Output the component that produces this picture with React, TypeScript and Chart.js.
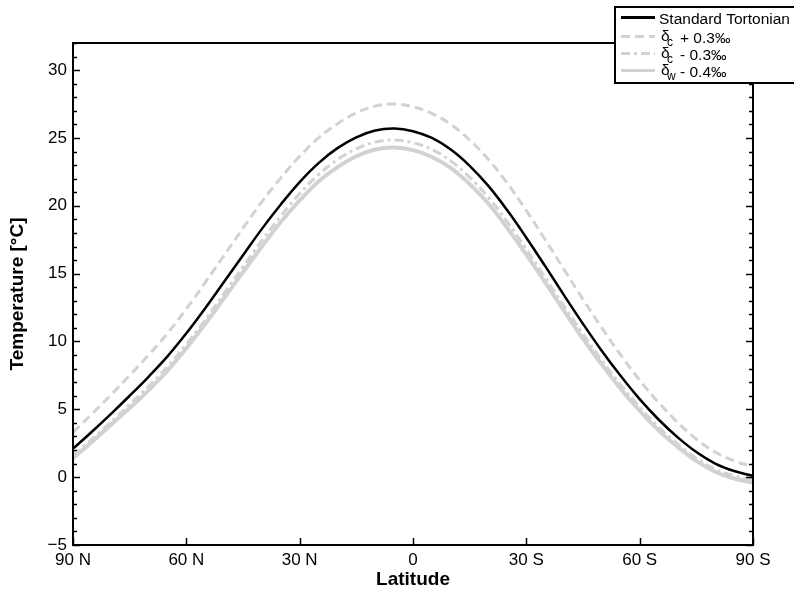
import React, { useEffect, useRef } from 'react';
import { Chart, registerables } from 'chart.js';

Chart.register(...registerables);

// Latitude axis: negative = North, positive = South
const latitudes = [-90, -85, -80, -75, -70, -65, -60, -55, -50, -45, -40, -35, -30, -25, -20, -15, -10, -5, 0, 5, 10, 15, 20, 25, 30, 35, 40, 45, 50, 55, 60, 65, 70, 75, 80, 85, 90];

const xTickValues = [-90, -60, -30, 0, 30, 60, 90];
const xTickLabels = ['90 N', '60 N', '30 N', '0', '30 S', '60 S', '90 S'];
const yTickValues = [-5, 0, 5, 10, 15, 20, 25, 30];

const standardTortonian = [2.1, 3.35, 4.65, 6.0, 7.4, 8.9, 10.6, 12.45, 14.4, 16.35, 18.3, 20.1, 21.75, 23.15, 24.25, 25.05, 25.55, 25.7, 25.5, 25.0, 24.15, 22.95, 21.45, 19.65, 17.65, 15.55, 13.4, 11.3, 9.3, 7.45, 5.75, 4.25, 2.95, 1.85, 1.0, 0.45, 0.1];
const deltaCPlus = [3.3, 4.65, 6.05, 7.5, 9.0, 10.6, 12.4, 14.35, 16.35, 18.35, 20.3, 22.05, 23.65, 25.0, 26.05, 26.85, 27.35, 27.5, 27.3, 26.8, 26.0, 24.85, 23.4, 21.65, 19.65, 17.5, 15.3, 13.1, 11.0, 9.0, 7.15, 5.5, 4.05, 2.8, 1.85, 1.2, 0.8];
const deltaCMinus = [1.6, 2.8, 4.05, 5.35, 6.7, 8.15, 9.8, 11.6, 13.55, 15.5, 17.45, 19.25, 20.9, 22.3, 23.4, 24.2, 24.7, 24.85, 24.65, 24.15, 23.3, 22.1, 20.6, 18.8, 16.8, 14.7, 12.6, 10.55, 8.6, 6.8, 5.15, 3.7, 2.45, 1.4, 0.6, 0.1, -0.2];
const deltaWMinus = [1.4, 2.6, 3.85, 5.1, 6.4, 7.85, 9.5, 11.3, 13.2, 15.1, 17.0, 18.8, 20.4, 21.8, 22.85, 23.65, 24.15, 24.3, 24.1, 23.6, 22.8, 21.6, 20.15, 18.35, 16.4, 14.35, 12.25, 10.2, 8.3, 6.5, 4.9, 3.45, 2.25, 1.2, 0.4, -0.1, -0.4];

const seriesLabels = ['Standard Tortonian', 'δc + 0.3‰', 'δc - 0.3‰', 'δw - 0.4‰'];
const legendParts = [
  { pre: 'Standard Tortonian', sub: '', post: '' },
  { pre: 'δ', sub: 'c', post: '+ 0.3‰' },
  { pre: 'δ', sub: 'c', post: '- 0.3‰' },
  { pre: 'δ', sub: 'w', post: '- 0.4‰' },
];

const FONT = '"Liberation Sans", Arial, Helvetica, sans-serif';
const GRAY = '#d2d2d2';

const toPoints = (vals: number[]) => latitudes.map((lat, i) => ({ x: lat, y: vals[i] }));

const framePlugin = {
  id: 'frameTicksLegend',
  afterDraw(chart: any) {
    const { ctx, chartArea, scales } = chart;
    const { left, right, top, bottom } = chartArea;
    const xs = scales.x;
    const ys = scales.y;
    ctx.save();
    ctx.strokeStyle = '#000';
    ctx.lineWidth = 1.5;
    ctx.beginPath();
    for (let v = -5; v <= 32; v++) {
      const py = Math.round(ys.getPixelForValue(v)) + 0.5;
      const len = v % 5 === 0 ? 7 : 4;
      ctx.moveTo(left, py);
      ctx.lineTo(left + len, py);
      ctx.moveTo(right, py);
      ctx.lineTo(right - len, py);
    }
    xTickValues.forEach((v) => {
      const px = Math.round(xs.getPixelForValue(v)) + 0.5;
      ctx.moveTo(px, bottom);
      ctx.lineTo(px, bottom - 7);
    });
    ctx.stroke();
    ctx.lineWidth = 2;
    ctx.strokeRect(left, top, right - left, bottom - top);

    // legend
    const bx = 615, by = 7, bw = 190, bh = 76;
    ctx.fillStyle = '#fff';
    ctx.fillRect(bx, by, bw, bh);
    ctx.lineWidth = 2;
    ctx.strokeStyle = '#000';
    ctx.strokeRect(bx, by, bw, bh);
    const lineYs = [17.5, 36.5, 53.5, 70.5];
    chart.data.datasets.forEach((ds: any, i: number) => {
      const ly = lineYs[i];
      ctx.save();
      ctx.strokeStyle = ds.borderColor;
      ctx.lineWidth = 3;
      ctx.setLineDash(ds.borderDash || []);
      ctx.beginPath();
      ctx.moveTo(621, ly);
      ctx.lineTo(655, ly);
      ctx.stroke();
      ctx.restore();
      const p = legendParts[i];
      const base = ly + 6;
      ctx.fillStyle = '#000';
      ctx.textBaseline = 'alphabetic';
      ctx.textAlign = 'left';
      ctx.font = `15.5px ${FONT}`;
      if (!p.sub) {
        ctx.fillText(p.pre, 659, base);
      } else {
        ctx.fillText(p.pre, 661, base - 2);
        ctx.font = `12px ${FONT}`;
        ctx.fillText(p.sub, 667, base + 3);
        ctx.font = `15.5px ${FONT}`;
        ctx.fillText(p.post, 680, base);
      }
    });
    ctx.restore();
  },
};

export default function App() {
  const ref = useRef<HTMLCanvasElement | null>(null);
  useEffect(() => {
    document.body.style.margin = '0';
    document.body.style.overflow = 'hidden';
    const canvas = ref.current;
    if (!canvas) return;
    const chart = new Chart(canvas, {
      type: 'line',
      data: {
        datasets: [
          {
            label: seriesLabels[0],
            data: toPoints(standardTortonian),
            borderColor: '#000',
            borderWidth: 2.5,
            pointRadius: 0,
            tension: 0.4,
            order: 0,
          },
          {
            label: seriesLabels[1],
            data: toPoints(deltaCPlus),
            borderColor: GRAY,
            borderWidth: 3,
            borderDash: [9, 5],
            pointRadius: 0,
            tension: 0.4,
            order: 1,
          },
          {
            label: seriesLabels[2],
            data: toPoints(deltaCMinus),
            borderColor: GRAY,
            borderWidth: 3,
            borderDash: [9, 4, 3, 4],
            pointRadius: 0,
            tension: 0.4,
            order: 2,
          },
          {
            label: seriesLabels[3],
            data: toPoints(deltaWMinus),
            borderColor: GRAY,
            borderWidth: 4,
            pointRadius: 0,
            tension: 0.4,
            order: 3,
          },
        ],
      },
      options: {
        responsive: false,
        animation: false,
        layout: { padding: { top: 43, right: 41, left: 0, bottom: 0 } },
        plugins: { legend: { display: false }, tooltip: { enabled: false } },
        scales: {
          x: {
            type: 'linear',
            min: -90,
            max: 90,
            grid: { display: false, drawTicks: false },
            border: { display: false },
            ticks: {
              stepSize: 30,
              autoSkip: false,
              maxRotation: 0,
              padding: 5,
              color: '#000',
              font: { family: FONT, size: 17 },
              callback: (v: any) => {
                const i = xTickValues.indexOf(Number(v));
                return i >= 0 ? xTickLabels[i] : '';
              },
            },
            title: {
              display: true,
              text: 'Latitude',
              color: '#000',
              padding: 3,
              font: { family: FONT, size: 19, weight: 'bold' },
            },
            afterFit: (s: any) => {
              s.height = 49;
            },
          },
          y: {
            type: 'linear',
            min: -5,
            max: 32,
            grid: { display: false, drawTicks: false },
            border: { display: false },
            ticks: {
              stepSize: 5,
              includeBounds: false,
              padding: 6,
              color: '#000',
              font: { family: FONT, size: 17 },
              callback: (v: any) => (yTickValues.includes(Number(v)) ? (Number(v) < 0 ? '\u2212' + Math.abs(Number(v)) : String(v)) : ''),
            },
            title: {
              display: true,
              text: 'Temperature [°C]',
              color: '#000',
              padding: 6,
              font: { family: FONT, size: 19, weight: 'bold' },
            },
            afterFit: (s: any) => {
              s.width = 73;
            },
          },
        },
      } as any,
      plugins: [framePlugin],
    });
    return () => chart.destroy();
  }, []);
  return <canvas ref={ref} width={794} height={594} style={{ display: 'block' }} />;
}
